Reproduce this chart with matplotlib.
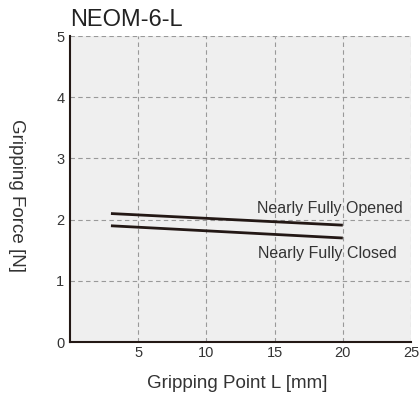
import matplotlib.pyplot as plt

plt.rcParams['font.family'] = ['Liberation Sans', 'DejaVu Sans']

# gripping point L [mm] and force [N]
opened_x = [3, 20]
opened_y = [2.10, 1.91]
closed_x = [3, 20]
closed_y = [1.90, 1.70]

x_ticks = [5, 10, 15, 20, 25]
y_ticks = [0, 1, 2, 3, 4, 5]

fig = plt.figure(figsize=(4.2, 3.97), dpi=100)
ax = fig.add_axes([0.1667, 0.1385, 0.8119, 0.7705])
ax.set_facecolor('#efefef')

ax.plot(opened_x, opened_y, color='#231815', linewidth=2.0, solid_capstyle='butt')
ax.plot(closed_x, closed_y, color='#231815', linewidth=2.0, solid_capstyle='butt')

ax.text(24.4, 2.19, 'Nearly Fully Opened', ha='right', va='center', fontsize=11.5, color='#333333')
ax.text(23.97, 1.45, 'Nearly Fully Closed', ha='right', va='center', fontsize=11.5, color='#333333')

ax.set_xlim(0, 25)
ax.set_ylim(0, 5)
ax.set_xticks(x_ticks)
ax.set_yticks(y_ticks)
ax.tick_params(length=0, labelsize=10.5, colors='#333333')
ax.tick_params(axis='y', pad=4)
ax.tick_params(axis='x', pad=3)
ax.grid(True, color='#999999', linestyle=(0, (4, 3)), linewidth=0.8)

for s in ['top', 'right']:
    ax.spines[s].set_visible(False)
for s in ['left', 'bottom']:
    ax.spines[s].set_color('#231815')
    ax.spines[s].set_linewidth(1.5)

ax.set_xlabel('Gripping Point L [mm]', fontsize=13.5, color='#333333', va='center')
ax.xaxis.set_label_coords(0.491, -0.134)
ax.set_ylabel('Gripping Force [N]', fontsize=13.5, color='#333333', rotation=270, va='center')
ax.yaxis.set_label_coords(-0.158, 0.48)
ax.set_title('NEOM-6-L', fontsize=17, color='#222222', loc='left', pad=7)

fig.savefig('out.png', dpi=100)
